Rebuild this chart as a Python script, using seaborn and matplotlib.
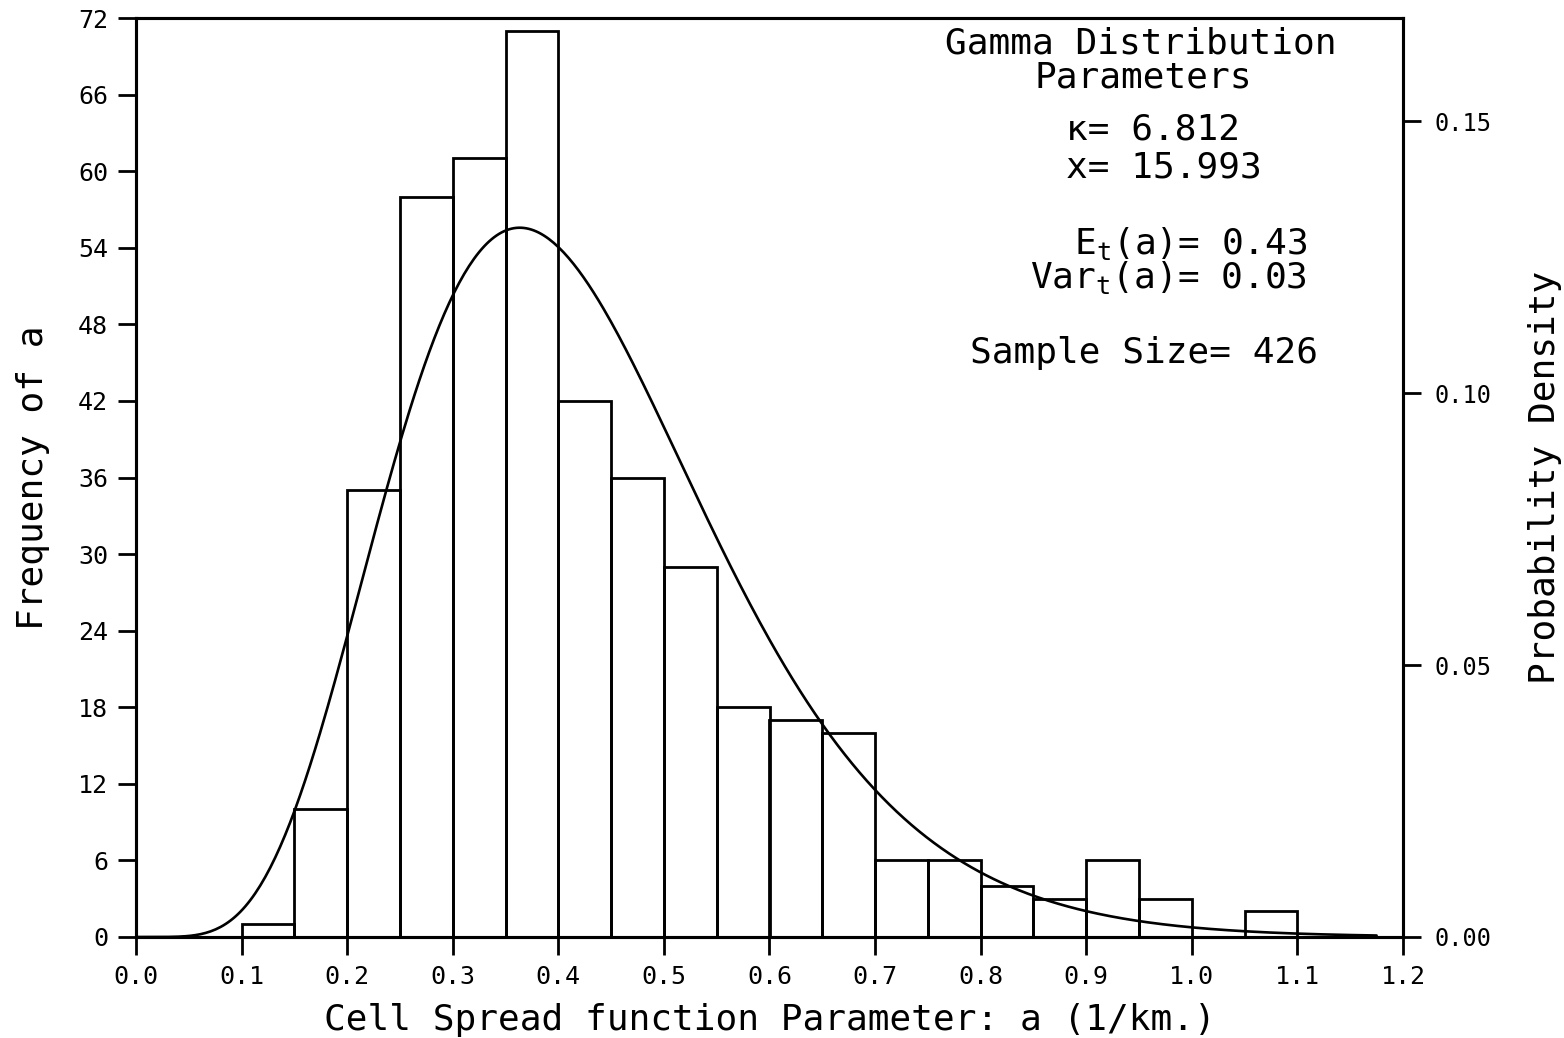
import math
import numpy as np
import pandas as pd
import matplotlib
matplotlib.use("Agg")
import matplotlib.pyplot as plt
from matplotlib.ticker import FormatStrFormatter
import seaborn as sns

# Histogram of the cell spread parameter a (bins of 0.05 1/km)
bin_left = [0.10, 0.15, 0.20, 0.25, 0.30, 0.35, 0.40, 0.45, 0.50, 0.55,
            0.60, 0.65, 0.70, 0.75, 0.80, 0.85, 0.90, 0.95, 1.00, 1.05]
counts = [1, 10, 35, 58, 61, 71, 42, 36, 29, 18,
          17, 16, 6, 6, 4, 3, 6, 3, 0, 2]
bin_width = 0.05

# Fitted gamma distribution
kappa = 6.812
lam = 15.993
sample_size = 426
mean_a = 0.43
var_a = 0.03

x_ticks = [0.0, 0.1, 0.2, 0.3, 0.4, 0.5, 0.6, 0.7, 0.8, 0.9, 1.0, 1.1, 1.2]
y_ticks = [0, 6, 12, 18, 24, 30, 36, 42, 48, 54, 60, 66, 72]
density_ticks = [0.00, 0.05, 0.10, 0.15]

sns.set_theme(style="ticks")
plt.rcParams["font.family"] = ["DejaVu Sans Mono", "DejaVu Sans"]
plt.rcParams["mathtext.default"] = "regular"
plt.rcParams["axes.linewidth"] = 2.2
plt.rcParams["text.color"] = "black"
plt.rcParams["axes.labelcolor"] = "black"
plt.rcParams["xtick.color"] = "black"
plt.rcParams["ytick.color"] = "black"

W, H = 1564, 1038
fig = plt.figure(figsize=(W / 100, H / 100), dpi=100)
ax = fig.add_axes([136 / W, 1 - 937 / H, (1403 - 136) / W, (937 - 18) / H])

hist_df = pd.DataFrame({"a": [b + bin_width / 2 for b in bin_left], "n": counts})
edges = bin_left + [bin_left[-1] + bin_width]
sns.histplot(data=hist_df, x="a", weights="n", bins=edges, fill=False,
             color="black", linewidth=2.0, ax=ax)

# Gamma density scaled to expected counts per bin
xs = np.linspace(0.0, 1.175, 500)
log_pdf = (kappa * math.log(lam) + (kappa - 1) * np.log(np.maximum(xs, 1e-12))
           - lam * xs - math.lgamma(kappa))
expected = sample_size * bin_width * np.exp(log_pdf)
curve_df = pd.DataFrame({"a": xs, "expected": expected})
sns.lineplot(data=curve_df, x="a", y="expected", color="black",
             linewidth=1.9, ax=ax)

ax.set_xlim(0, 1.2)
ax.set_ylim(0, 72)
ax.set_xticks(x_ticks)
ax.set_yticks(y_ticks)
ax.xaxis.set_major_formatter(FormatStrFormatter("%.1f"))
ax.tick_params(axis="both", direction="out", length=13, width=2.0,
               labelsize=18, labelcolor="black", pad=7)
ax.set_xlabel("Cell Spread function Parameter: a (1/km.)", fontsize=26,
              labelpad=10, color="black")
ax.set_ylabel("Frequency of a", fontsize=26, labelpad=20, color="black")
for s in ax.spines.values():
    s.set_color("black")

ax2 = ax.twinx()
ax2.set_ylim(0, 72 / sample_size)
ax2.set_yticks(density_ticks)
ax2.yaxis.set_major_formatter(FormatStrFormatter("%.2f"))
ax2.tick_params(axis="y", direction="out", length=13, width=2.0,
                labelsize=17, labelcolor="black", pad=10)
ax2.set_ylabel("Probability Density", fontsize=26, labelpad=26, color="black")
for s in ax2.spines.values():
    s.set_color("black")
    s.set_linewidth(2.2)

def fx(px):
    return px / W

def fy(py):
    return 1 - py / H

txt = dict(fontsize=26, color="black")
fig.text(fx(1141), fy(43), "Gamma Distribution", ha="center", va="center", **txt)
fig.text(fx(1143), fy(78), "Parameters", ha="center", va="center", **txt)
fig.text(fx(1240), fy(130), f"κ= {kappa:.3f}", ha="right", va="center", **txt)
fig.text(fx(1262), fy(168), f"x= {lam:.3f}", ha="right", va="center", **txt)
fig.text(fx(1307), fy(243), f"E$_t$(a)= {mean_a:.2f}", ha="right", va="center", **txt)
fig.text(fx(1307), fy(278), f"Var$_t$(a)= {var_a:.2f}", ha="right", va="center", **txt)
fig.text(fx(1318), fy(353), f"Sample Size= {sample_size}", ha="right", va="center", **txt)

fig.savefig("out.png", dpi=100, facecolor="white")
